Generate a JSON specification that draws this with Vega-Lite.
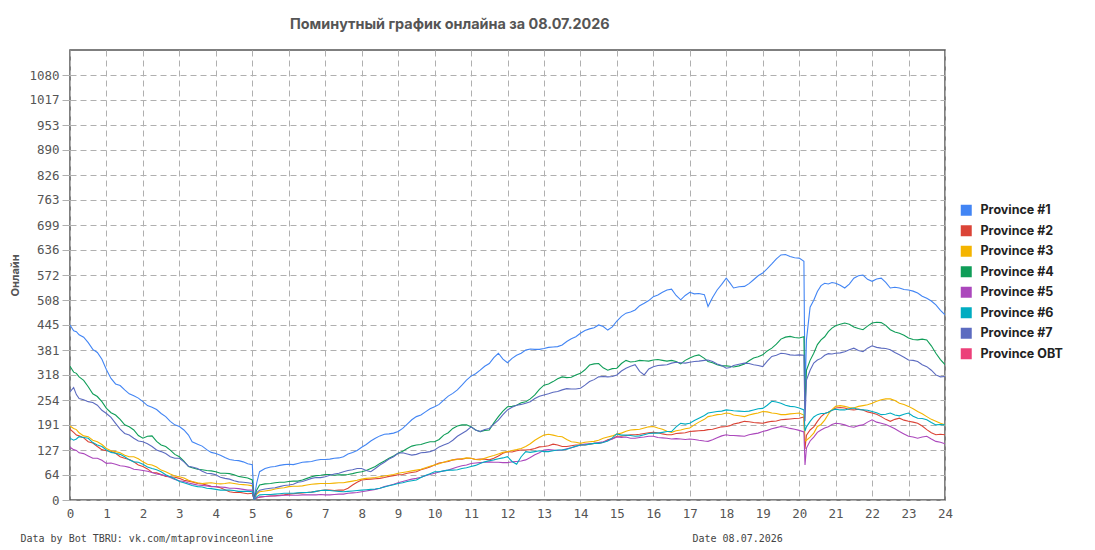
{
  "$schema": "https://vega.github.io/schema/vega-lite/v6.json",
  "width": 875,
  "height": 450,
  "autosize": {"type": "none"},
  "padding": {"left": 70, "top": 50, "right": 150, "bottom": 50},
  "background": "white",
  "title": {
    "text": "Поминутный график онлайна за 08.07.2026",
    "anchor": "start",
    "frame": "group",
    "dx": 220,
    "offset": 18,
    "font": "Inter",
    "fontSize": 14.4,
    "fontWeight": "bold",
    "color": "#555555"
  },
  "config": {
    "view": {"stroke": "#555555", "strokeWidth": 1.5},
    "axis": {
      "labelFont": "DejaVu Sans Mono",
      "labelFontSize": 12.5,
      "labelColor": "#555555",
      "gridColor": "#b0b0b0",
      "gridDash": [6, 4],
      "gridWidth": 1,
      "domain": false
    }
  },
  "data": {
    "values": [
      {"h": 0, "p1": 445, "p2": 180, "p3": 188, "p4": 340, "p5": 134, "p6": 157, "p7": 275},
      {"h": 0.1, "p1": 430, "p2": 172, "p3": 182, "p4": 325, "p5": 128, "p6": 152, "p7": 286},
      {"h": 0.175, "p1": 428, "p2": 165, "p3": 179, "p4": 322, "p5": 126, "p6": 155, "p7": 268},
      {"h": 0.25, "p1": 420, "p2": 163, "p3": 171, "p4": 313, "p5": 120, "p6": 161, "p7": 258},
      {"h": 0.375, "p1": 414, "p2": 158, "p3": 163, "p4": 304, "p5": 118, "p6": 159, "p7": 255},
      {"h": 0.5, "p1": 400, "p2": 148, "p3": 161, "p4": 288, "p5": 112, "p6": 157, "p7": 250},
      {"h": 0.625, "p1": 383, "p2": 145, "p3": 152, "p4": 270, "p5": 106, "p6": 146, "p7": 248},
      {"h": 0.75, "p1": 375, "p2": 136, "p3": 148, "p4": 263, "p5": 106, "p6": 140, "p7": 241},
      {"h": 0.875, "p1": 358, "p2": 128, "p3": 141, "p4": 250, "p5": 101, "p6": 136, "p7": 228},
      {"h": 1.0, "p1": 331, "p2": 125, "p3": 131, "p4": 233, "p5": 93, "p6": 127, "p7": 220},
      {"h": 1.125, "p1": 309, "p2": 124, "p3": 125, "p4": 222, "p5": 94, "p6": 121, "p7": 210},
      {"h": 1.25, "p1": 295, "p2": 119, "p3": 123, "p4": 216, "p5": 91, "p6": 119, "p7": 195},
      {"h": 1.375, "p1": 291, "p2": 110, "p3": 120, "p4": 205, "p5": 87, "p6": 116, "p7": 180},
      {"h": 1.5, "p1": 280, "p2": 106, "p3": 114, "p4": 191, "p5": 86, "p6": 110, "p7": 169},
      {"h": 1.625, "p1": 270, "p2": 103, "p3": 110, "p4": 186, "p5": 83, "p6": 102, "p7": 165},
      {"h": 1.75, "p1": 265, "p2": 97, "p3": 110, "p4": 178, "p5": 78, "p6": 97, "p7": 157},
      {"h": 1.875, "p1": 259, "p2": 89, "p3": 105, "p4": 164, "p5": 77, "p6": 96, "p7": 150},
      {"h": 2.0, "p1": 250, "p2": 85, "p3": 97, "p4": 157, "p5": 75, "p6": 91, "p7": 148},
      {"h": 2.125, "p1": 240, "p2": 79, "p3": 91, "p4": 162, "p5": 73, "p6": 84, "p7": 143},
      {"h": 2.25, "p1": 236, "p2": 70, "p3": 89, "p4": 163, "p5": 70, "p6": 80, "p7": 136},
      {"h": 2.375, "p1": 230, "p2": 69, "p3": 84, "p4": 149, "p5": 66, "p6": 77, "p7": 127},
      {"h": 2.5, "p1": 220, "p2": 65, "p3": 76, "p4": 140, "p5": 64, "p6": 72, "p7": 123},
      {"h": 2.625, "p1": 212, "p2": 60, "p3": 72, "p4": 136, "p5": 62, "p6": 64, "p7": 118},
      {"h": 2.75, "p1": 200, "p2": 59, "p3": 66, "p4": 127, "p5": 57, "p6": 59, "p7": 110},
      {"h": 2.875, "p1": 191, "p2": 58, "p3": 61, "p4": 116, "p5": 52, "p6": 54, "p7": 106},
      {"h": 3.0, "p1": 187, "p2": 55, "p3": 59, "p4": 110, "p5": 49, "p6": 47, "p7": 106},
      {"h": 3.125, "p1": 178, "p2": 50, "p3": 56, "p4": 99, "p5": 47, "p6": 44, "p7": 97},
      {"h": 3.25, "p1": 165, "p2": 48, "p3": 50, "p4": 85, "p5": 43, "p6": 40, "p7": 86},
      {"h": 3.35, "p1": 148, "p2": 46, "p3": 47, "p4": 82, "p5": 41, "p6": 37, "p7": 84},
      {"h": 3.5, "p1": 142, "p2": 42, "p3": 44, "p4": 78, "p5": 38, "p6": 34, "p7": 80},
      {"h": 3.625, "p1": 137, "p2": 41, "p3": 42, "p4": 77, "p5": 37, "p6": 33, "p7": 73},
      {"h": 3.75, "p1": 128, "p2": 38, "p3": 43, "p4": 75, "p5": 36, "p6": 30, "p7": 68},
      {"h": 3.875, "p1": 121, "p2": 35, "p3": 44, "p4": 74, "p5": 34, "p6": 29, "p7": 67},
      {"h": 4.0, "p1": 118, "p2": 34, "p3": 42, "p4": 72, "p5": 34, "p6": 27, "p7": 64},
      {"h": 4.125, "p1": 114, "p2": 31, "p3": 41, "p4": 68, "p5": 33, "p6": 25, "p7": 58},
      {"h": 4.25, "p1": 108, "p2": 26, "p3": 42, "p4": 68, "p5": 32, "p6": 25, "p7": 55},
      {"h": 4.375, "p1": 103, "p2": 21, "p3": 44, "p4": 67, "p5": 30, "p6": 25, "p7": 53},
      {"h": 4.5, "p1": 101, "p2": 19, "p3": 42, "p4": 64, "p5": 30, "p6": 24, "p7": 49},
      {"h": 4.625, "p1": 100, "p2": 20, "p3": 40, "p4": 60, "p5": 29, "p6": 22, "p7": 46},
      {"h": 4.75, "p1": 97, "p2": 18, "p3": 39, "p4": 58, "p5": 27, "p6": 22, "p7": 45},
      {"h": 4.875, "p1": 92, "p2": 16, "p3": 38, "p4": 56, "p5": 25, "p6": 22, "p7": 44},
      {"h": 5.0, "p1": 90, "p2": 17, "p3": 36, "p4": 51, "p5": 25, "p6": 21, "p7": 42},
      {"h": 5.05, "p1": 2, "p2": 1, "p3": 2, "p4": 3, "p5": 1, "p6": 1, "p7": 2},
      {"h": 5.12, "p1": 43, "p2": 5, "p3": 15, "p4": 25, "p5": 5, "p6": 8, "p7": 18},
      {"h": 5.2, "p1": 72, "p2": 7, "p3": 21, "p4": 38, "p5": 8, "p6": 13, "p7": 25},
      {"h": 5.35, "p1": 80, "p2": 9, "p3": 23, "p4": 41, "p5": 9, "p6": 14, "p7": 28},
      {"h": 5.5, "p1": 84, "p2": 10, "p3": 25, "p4": 42, "p5": 10, "p6": 14, "p7": 30},
      {"h": 5.625, "p1": 85, "p2": 11, "p3": 28, "p4": 44, "p5": 10, "p6": 15, "p7": 31},
      {"h": 5.75, "p1": 88, "p2": 12, "p3": 30, "p4": 45, "p5": 11, "p6": 16, "p7": 34},
      {"h": 5.875, "p1": 90, "p2": 13, "p3": 31, "p4": 45, "p5": 12, "p6": 17, "p7": 37},
      {"h": 6.0, "p1": 91, "p2": 15, "p3": 34, "p4": 47, "p5": 12, "p6": 17, "p7": 38},
      {"h": 6.125, "p1": 90, "p2": 16, "p3": 35, "p4": 48, "p5": 12, "p6": 17, "p7": 40},
      {"h": 6.25, "p1": 93, "p2": 17, "p3": 35, "p4": 48, "p5": 12, "p6": 18, "p7": 45},
      {"h": 6.375, "p1": 96, "p2": 18, "p3": 36, "p4": 51, "p5": 13, "p6": 19, "p7": 47},
      {"h": 6.5, "p1": 97, "p2": 19, "p3": 38, "p4": 55, "p5": 13, "p6": 19, "p7": 51},
      {"h": 6.625, "p1": 98, "p2": 20, "p3": 40, "p4": 59, "p5": 13, "p6": 20, "p7": 55},
      {"h": 6.75, "p1": 101, "p2": 22, "p3": 41, "p4": 62, "p5": 13, "p6": 22, "p7": 57},
      {"h": 6.875, "p1": 103, "p2": 24, "p3": 42, "p4": 63, "p5": 14, "p6": 24, "p7": 57},
      {"h": 7.0, "p1": 103, "p2": 25, "p3": 42, "p4": 65, "p5": 13, "p6": 25, "p7": 59},
      {"h": 7.125, "p1": 104, "p2": 25, "p3": 42, "p4": 65, "p5": 13, "p6": 24, "p7": 63},
      {"h": 7.25, "p1": 106, "p2": 24, "p3": 43, "p4": 63, "p5": 14, "p6": 23, "p7": 66},
      {"h": 7.375, "p1": 107, "p2": 25, "p3": 44, "p4": 64, "p5": 15, "p6": 22, "p7": 68},
      {"h": 7.5, "p1": 110, "p2": 25, "p3": 44, "p4": 64, "p5": 15, "p6": 21, "p7": 72},
      {"h": 7.625, "p1": 117, "p2": 30, "p3": 46, "p4": 65, "p5": 17, "p6": 22, "p7": 75},
      {"h": 7.75, "p1": 121, "p2": 38, "p3": 48, "p4": 67, "p5": 18, "p6": 23, "p7": 77},
      {"h": 7.875, "p1": 126, "p2": 45, "p3": 50, "p4": 70, "p5": 19, "p6": 24, "p7": 80},
      {"h": 8.0, "p1": 134, "p2": 51, "p3": 53, "p4": 72, "p5": 21, "p6": 25, "p7": 80},
      {"h": 8.125, "p1": 141, "p2": 52, "p3": 55, "p4": 75, "p5": 23, "p6": 26, "p7": 75},
      {"h": 8.25, "p1": 150, "p2": 53, "p3": 56, "p4": 80, "p5": 25, "p6": 27, "p7": 72},
      {"h": 8.375, "p1": 157, "p2": 54, "p3": 57, "p4": 85, "p5": 27, "p6": 28, "p7": 80},
      {"h": 8.5, "p1": 163, "p2": 55, "p3": 59, "p4": 93, "p5": 30, "p6": 30, "p7": 89},
      {"h": 8.625, "p1": 167, "p2": 57, "p3": 61, "p4": 99, "p5": 34, "p6": 33, "p7": 96},
      {"h": 8.75, "p1": 168, "p2": 60, "p3": 63, "p4": 106, "p5": 37, "p6": 36, "p7": 104},
      {"h": 8.875, "p1": 170, "p2": 62, "p3": 65, "p4": 112, "p5": 40, "p6": 39, "p7": 110},
      {"h": 9.0, "p1": 174, "p2": 64, "p3": 68, "p4": 119, "p5": 44, "p6": 42, "p7": 119},
      {"h": 9.125, "p1": 182, "p2": 65, "p3": 70, "p4": 124, "p5": 47, "p6": 44, "p7": 120},
      {"h": 9.25, "p1": 193, "p2": 68, "p3": 72, "p4": 131, "p5": 50, "p6": 47, "p7": 117},
      {"h": 9.375, "p1": 204, "p2": 70, "p3": 74, "p4": 137, "p5": 53, "p6": 49, "p7": 114},
      {"h": 9.5, "p1": 212, "p2": 72, "p3": 76, "p4": 140, "p5": 55, "p6": 51, "p7": 116},
      {"h": 9.625, "p1": 216, "p2": 77, "p3": 78, "p4": 141, "p5": 58, "p6": 57, "p7": 120},
      {"h": 9.75, "p1": 224, "p2": 80, "p3": 82, "p4": 145, "p5": 62, "p6": 62, "p7": 121},
      {"h": 9.875, "p1": 232, "p2": 84, "p3": 86, "p4": 148, "p5": 65, "p6": 67, "p7": 123},
      {"h": 10.0, "p1": 237, "p2": 89, "p3": 89, "p4": 148, "p5": 68, "p6": 72, "p7": 127},
      {"h": 10.125, "p1": 243, "p2": 94, "p3": 92, "p4": 154, "p5": 71, "p6": 72, "p7": 135},
      {"h": 10.25, "p1": 254, "p2": 96, "p3": 96, "p4": 165, "p5": 74, "p6": 74, "p7": 140},
      {"h": 10.375, "p1": 264, "p2": 98, "p3": 100, "p4": 171, "p5": 76, "p6": 76, "p7": 144},
      {"h": 10.5, "p1": 271, "p2": 102, "p3": 102, "p4": 182, "p5": 80, "p6": 76, "p7": 152},
      {"h": 10.625, "p1": 280, "p2": 104, "p3": 103, "p4": 188, "p5": 84, "p6": 77, "p7": 162},
      {"h": 10.75, "p1": 292, "p2": 104, "p3": 105, "p4": 191, "p5": 87, "p6": 80, "p7": 169},
      {"h": 10.875, "p1": 305, "p2": 106, "p3": 107, "p4": 191, "p5": 89, "p6": 82, "p7": 176},
      {"h": 11.0, "p1": 315, "p2": 106, "p3": 106, "p4": 186, "p5": 93, "p6": 85, "p7": 186},
      {"h": 11.125, "p1": 321, "p2": 103, "p3": 103, "p4": 178, "p5": 94, "p6": 88, "p7": 178},
      {"h": 11.25, "p1": 330, "p2": 104, "p3": 102, "p4": 174, "p5": 95, "p6": 93, "p7": 174},
      {"h": 11.375, "p1": 340, "p2": 104, "p3": 106, "p4": 177, "p5": 96, "p6": 97, "p7": 179},
      {"h": 11.5, "p1": 347, "p2": 102, "p3": 110, "p4": 178, "p5": 97, "p6": 100, "p7": 182},
      {"h": 11.625, "p1": 362, "p2": 106, "p3": 113, "p4": 196, "p5": 96, "p6": 102, "p7": 193},
      {"h": 11.75, "p1": 373, "p2": 112, "p3": 117, "p4": 212, "p5": 96, "p6": 105, "p7": 203},
      {"h": 11.875, "p1": 358, "p2": 119, "p3": 121, "p4": 226, "p5": 95, "p6": 107, "p7": 217},
      {"h": 12.0, "p1": 349, "p2": 123, "p3": 123, "p4": 237, "p5": 95, "p6": 110, "p7": 229},
      {"h": 12.125, "p1": 360, "p2": 122, "p3": 126, "p4": 238, "p5": 97, "p6": 98, "p7": 236},
      {"h": 12.25, "p1": 368, "p2": 125, "p3": 128, "p4": 241, "p5": 98, "p6": 91, "p7": 241},
      {"h": 12.375, "p1": 373, "p2": 127, "p3": 131, "p4": 247, "p5": 99, "p6": 110, "p7": 243},
      {"h": 12.5, "p1": 381, "p2": 127, "p3": 136, "p4": 250, "p5": 102, "p6": 123, "p7": 246},
      {"h": 12.625, "p1": 384, "p2": 128, "p3": 143, "p4": 257, "p5": 108, "p6": 121, "p7": 250},
      {"h": 12.75, "p1": 383, "p2": 131, "p3": 152, "p4": 267, "p5": 115, "p6": 123, "p7": 258},
      {"h": 12.875, "p1": 383, "p2": 135, "p3": 159, "p4": 281, "p5": 120, "p6": 125, "p7": 264},
      {"h": 13.0, "p1": 385, "p2": 136, "p3": 165, "p4": 292, "p5": 127, "p6": 123, "p7": 267},
      {"h": 13.125, "p1": 388, "p2": 138, "p3": 167, "p4": 295, "p5": 128, "p6": 123, "p7": 270},
      {"h": 13.25, "p1": 389, "p2": 142, "p3": 165, "p4": 301, "p5": 127, "p6": 125, "p7": 274},
      {"h": 13.375, "p1": 390, "p2": 140, "p3": 162, "p4": 308, "p5": 126, "p6": 127, "p7": 276},
      {"h": 13.5, "p1": 394, "p2": 136, "p3": 161, "p4": 313, "p5": 127, "p6": 127, "p7": 280},
      {"h": 13.625, "p1": 403, "p2": 136, "p3": 154, "p4": 311, "p5": 130, "p6": 129, "p7": 283},
      {"h": 13.75, "p1": 410, "p2": 138, "p3": 148, "p4": 312, "p5": 133, "p6": 133, "p7": 282},
      {"h": 13.875, "p1": 415, "p2": 140, "p3": 147, "p4": 318, "p5": 136, "p6": 137, "p7": 282},
      {"h": 14.0, "p1": 424, "p2": 140, "p3": 144, "p4": 322, "p5": 140, "p6": 140, "p7": 284},
      {"h": 14.125, "p1": 431, "p2": 140, "p3": 147, "p4": 331, "p5": 142, "p6": 140, "p7": 292},
      {"h": 14.25, "p1": 435, "p2": 142, "p3": 148, "p4": 343, "p5": 143, "p6": 142, "p7": 301},
      {"h": 14.375, "p1": 438, "p2": 144, "p3": 149, "p4": 346, "p5": 144, "p6": 144, "p7": 306},
      {"h": 14.5, "p1": 445, "p2": 144, "p3": 152, "p4": 347, "p5": 146, "p6": 144, "p7": 313},
      {"h": 14.625, "p1": 441, "p2": 147, "p3": 157, "p4": 336, "p5": 148, "p6": 146, "p7": 314},
      {"h": 14.75, "p1": 432, "p2": 153, "p3": 160, "p4": 330, "p5": 151, "p6": 150, "p7": 313},
      {"h": 14.875, "p1": 440, "p2": 156, "p3": 163, "p4": 334, "p5": 155, "p6": 158, "p7": 314},
      {"h": 15.0, "p1": 455, "p2": 162, "p3": 168, "p4": 335, "p5": 160, "p6": 168, "p7": 318},
      {"h": 15.125, "p1": 467, "p2": 162, "p3": 170, "p4": 347, "p5": 159, "p6": 165, "p7": 328},
      {"h": 15.25, "p1": 475, "p2": 164, "p3": 175, "p4": 355, "p5": 160, "p6": 165, "p7": 335},
      {"h": 15.375, "p1": 478, "p2": 166, "p3": 178, "p4": 351, "p5": 157, "p6": 164, "p7": 340},
      {"h": 15.5, "p1": 483, "p2": 166, "p3": 179, "p4": 352, "p5": 157, "p6": 162, "p7": 344},
      {"h": 15.625, "p1": 494, "p2": 167, "p3": 180, "p4": 355, "p5": 159, "p6": 163, "p7": 327},
      {"h": 15.75, "p1": 500, "p2": 169, "p3": 183, "p4": 354, "p5": 160, "p6": 166, "p7": 318},
      {"h": 15.875, "p1": 507, "p2": 171, "p3": 186, "p4": 353, "p5": 162, "p6": 169, "p7": 333},
      {"h": 16.0, "p1": 517, "p2": 172, "p3": 187, "p4": 356, "p5": 162, "p6": 170, "p7": 339},
      {"h": 16.125, "p1": 521, "p2": 171, "p3": 183, "p4": 357, "p5": 159, "p6": 170, "p7": 342},
      {"h": 16.25, "p1": 528, "p2": 168, "p3": 180, "p4": 355, "p5": 158, "p6": 172, "p7": 343},
      {"h": 16.375, "p1": 534, "p2": 166, "p3": 175, "p4": 353, "p5": 157, "p6": 174, "p7": 344},
      {"h": 16.5, "p1": 536, "p2": 166, "p3": 172, "p4": 355, "p5": 155, "p6": 174, "p7": 348},
      {"h": 16.625, "p1": 520, "p2": 169, "p3": 176, "p4": 352, "p5": 156, "p6": 186, "p7": 350},
      {"h": 16.75, "p1": 509, "p2": 170, "p3": 178, "p4": 346, "p5": 155, "p6": 195, "p7": 349},
      {"h": 16.875, "p1": 520, "p2": 171, "p3": 181, "p4": 355, "p5": 154, "p6": 193, "p7": 348},
      {"h": 17.0, "p1": 528, "p2": 174, "p3": 183, "p4": 361, "p5": 155, "p6": 195, "p7": 350},
      {"h": 17.125, "p1": 524, "p2": 175, "p3": 191, "p4": 366, "p5": 154, "p6": 202, "p7": 352},
      {"h": 17.25, "p1": 525, "p2": 176, "p3": 198, "p4": 369, "p5": 152, "p6": 208, "p7": 353},
      {"h": 17.4, "p1": 522, "p2": 177, "p3": 205, "p4": 360, "p5": 150, "p6": 215, "p7": 355},
      {"h": 17.5, "p1": 492, "p2": 179, "p3": 212, "p4": 352, "p5": 149, "p6": 221, "p7": 356},
      {"h": 17.625, "p1": 515, "p2": 180, "p3": 214, "p4": 349, "p5": 153, "p6": 223, "p7": 352},
      {"h": 17.75, "p1": 534, "p2": 183, "p3": 217, "p4": 344, "p5": 158, "p6": 225, "p7": 346},
      {"h": 17.875, "p1": 548, "p2": 186, "p3": 218, "p4": 341, "p5": 163, "p6": 226, "p7": 342},
      {"h": 18.0, "p1": 564, "p2": 187, "p3": 221, "p4": 341, "p5": 166, "p6": 229, "p7": 335},
      {"h": 18.1, "p1": 552, "p2": 189, "p3": 220, "p4": 340, "p5": 164, "p6": 228, "p7": 337},
      {"h": 18.2, "p1": 539, "p2": 193, "p3": 216, "p4": 338, "p5": 164, "p6": 227, "p7": 342},
      {"h": 18.35, "p1": 542, "p2": 196, "p3": 214, "p4": 341, "p5": 163, "p6": 226, "p7": 345},
      {"h": 18.5, "p1": 543, "p2": 200, "p3": 212, "p4": 346, "p5": 162, "p6": 225, "p7": 348},
      {"h": 18.625, "p1": 550, "p2": 199, "p3": 216, "p4": 354, "p5": 166, "p6": 226, "p7": 347},
      {"h": 18.75, "p1": 560, "p2": 197, "p3": 219, "p4": 361, "p5": 168, "p6": 229, "p7": 344},
      {"h": 18.875, "p1": 570, "p2": 196, "p3": 221, "p4": 364, "p5": 170, "p6": 232, "p7": 342},
      {"h": 19.0, "p1": 577, "p2": 195, "p3": 225, "p4": 369, "p5": 174, "p6": 233, "p7": 339},
      {"h": 19.125, "p1": 588, "p2": 198, "p3": 224, "p4": 379, "p5": 177, "p6": 241, "p7": 353},
      {"h": 19.25, "p1": 600, "p2": 200, "p3": 221, "p4": 386, "p5": 181, "p6": 251, "p7": 365},
      {"h": 19.375, "p1": 613, "p2": 201, "p3": 220, "p4": 396, "p5": 184, "p6": 249, "p7": 368},
      {"h": 19.5, "p1": 623, "p2": 204, "p3": 217, "p4": 409, "p5": 187, "p6": 246, "p7": 373},
      {"h": 19.625, "p1": 624, "p2": 205, "p3": 217, "p4": 414, "p5": 185, "p6": 241, "p7": 372},
      {"h": 19.75, "p1": 619, "p2": 206, "p3": 219, "p4": 416, "p5": 182, "p6": 238, "p7": 369},
      {"h": 19.875, "p1": 616, "p2": 207, "p3": 220, "p4": 413, "p5": 180, "p6": 237, "p7": 368},
      {"h": 20.0, "p1": 615, "p2": 208, "p3": 221, "p4": 412, "p5": 177, "p6": 234, "p7": 369},
      {"h": 20.13, "p1": 607, "p2": 211, "p3": 216, "p4": 415, "p5": 173, "p6": 229, "p7": 368},
      {"h": 20.16, "p1": 270, "p2": 130, "p3": 150, "p4": 230, "p5": 89, "p6": 175, "p7": 200},
      {"h": 20.2, "p1": 407, "p2": 165, "p3": 152, "p4": 330, "p5": 132, "p6": 186, "p7": 305},
      {"h": 20.3, "p1": 490, "p2": 178, "p3": 160, "p4": 355, "p5": 150, "p6": 200, "p7": 330},
      {"h": 20.4, "p1": 508, "p2": 186, "p3": 170, "p4": 373, "p5": 160, "p6": 211, "p7": 348},
      {"h": 20.5, "p1": 530, "p2": 200, "p3": 187, "p4": 395, "p5": 172, "p6": 217, "p7": 356},
      {"h": 20.6, "p1": 545, "p2": 212, "p3": 192, "p4": 407, "p5": 178, "p6": 220, "p7": 360},
      {"h": 20.7, "p1": 551, "p2": 220, "p3": 203, "p4": 415, "p5": 183, "p6": 220, "p7": 368},
      {"h": 20.8, "p1": 549, "p2": 223, "p3": 218, "p4": 428, "p5": 186, "p6": 223, "p7": 372},
      {"h": 20.9, "p1": 553, "p2": 228, "p3": 230, "p4": 437, "p5": 192, "p6": 228, "p7": 371},
      {"h": 21.0, "p1": 551, "p2": 234, "p3": 238, "p4": 443, "p5": 195, "p6": 231, "p7": 373},
      {"h": 21.125, "p1": 546, "p2": 235, "p3": 240, "p4": 447, "p5": 194, "p6": 229, "p7": 374},
      {"h": 21.25, "p1": 539, "p2": 234, "p3": 238, "p4": 450, "p5": 191, "p6": 229, "p7": 377},
      {"h": 21.375, "p1": 549, "p2": 230, "p3": 235, "p4": 447, "p5": 187, "p6": 232, "p7": 382},
      {"h": 21.5, "p1": 564, "p2": 229, "p3": 234, "p4": 440, "p5": 185, "p6": 234, "p7": 386},
      {"h": 21.625, "p1": 570, "p2": 231, "p3": 238, "p4": 436, "p5": 189, "p6": 230, "p7": 380},
      {"h": 21.75, "p1": 572, "p2": 229, "p3": 240, "p4": 433, "p5": 191, "p6": 229, "p7": 377},
      {"h": 21.875, "p1": 561, "p2": 224, "p3": 242, "p4": 442, "p5": 198, "p6": 228, "p7": 386},
      {"h": 22.0, "p1": 556, "p2": 221, "p3": 246, "p4": 450, "p5": 204, "p6": 225, "p7": 392},
      {"h": 22.125, "p1": 562, "p2": 218, "p3": 251, "p4": 452, "p5": 198, "p6": 222, "p7": 388},
      {"h": 22.25, "p1": 564, "p2": 212, "p3": 255, "p4": 451, "p5": 195, "p6": 217, "p7": 386},
      {"h": 22.375, "p1": 553, "p2": 205, "p3": 257, "p4": 444, "p5": 192, "p6": 218, "p7": 385},
      {"h": 22.5, "p1": 539, "p2": 200, "p3": 257, "p4": 433, "p5": 187, "p6": 221, "p7": 382},
      {"h": 22.625, "p1": 541, "p2": 205, "p3": 253, "p4": 427, "p5": 181, "p6": 216, "p7": 375},
      {"h": 22.75, "p1": 539, "p2": 208, "p3": 246, "p4": 424, "p5": 174, "p6": 214, "p7": 369},
      {"h": 22.875, "p1": 535, "p2": 203, "p3": 243, "p4": 419, "p5": 168, "p6": 218, "p7": 363},
      {"h": 23.0, "p1": 534, "p2": 200, "p3": 238, "p4": 412, "p5": 162, "p6": 221, "p7": 356},
      {"h": 23.125, "p1": 531, "p2": 198, "p3": 232, "p4": 408, "p5": 160, "p6": 213, "p7": 355},
      {"h": 23.25, "p1": 526, "p2": 195, "p3": 225, "p4": 407, "p5": 157, "p6": 208, "p7": 352},
      {"h": 23.375, "p1": 518, "p2": 188, "p3": 219, "p4": 409, "p5": 160, "p6": 207, "p7": 344},
      {"h": 23.5, "p1": 513, "p2": 179, "p3": 212, "p4": 407, "p5": 162, "p6": 204, "p7": 339},
      {"h": 23.625, "p1": 506, "p2": 171, "p3": 205, "p4": 392, "p5": 155, "p6": 197, "p7": 330},
      {"h": 23.75, "p1": 496, "p2": 166, "p3": 200, "p4": 373, "p5": 149, "p6": 191, "p7": 318},
      {"h": 23.875, "p1": 482, "p2": 167, "p3": 195, "p4": 357, "p5": 147, "p6": 192, "p7": 313},
      {"h": 24.0, "p1": 471, "p2": 166, "p3": 191, "p4": 344, "p5": 143, "p6": 191, "p7": 314}
    ]
  },
  "transform": [
    {"fold": ["p1", "p2", "p3", "p4", "p5", "p6", "p7"], "as": ["series", "online"]}
  ],
  "layer": [
    {
      "mark": {"type": "line", "strokeWidth": 1.1, "clip": true},
      "encoding": {
        "x": {
          "field": "h",
          "type": "quantitative",
          "scale": {"domain": [0, 24], "nice": false, "zero": false},
          "axis": {
            "values": [0, 1, 2, 3, 4, 5, 6, 7, 8, 9, 10, 11, 12, 13, 14, 15, 16, 17, 18, 19, 20, 21, 22, 23, 24],
            "format": "d",
            "ticks": false,
            "labelPadding": 7,
            "labelFlush": false,
            "labelOverlap": false,
            "title": "Date 08.07.2026",
            "titleFont": "DejaVu Sans Mono",
            "titleFontSize": 10,
            "titleFontWeight": "normal",
            "titleColor": "#444444",
            "titleX": 622,
            "titleY": 41,
            "titleAlign": "left",
            "titleBaseline": "alphabetic"
          }
        },
        "y": {
          "field": "online",
          "type": "quantitative",
          "scale": {"domain": [0, 1144], "nice": false},
          "axis": {
            "values": [0, 63.556, 127.111, 190.667, 254.222, 317.778, 381.333, 444.889, 508.444, 572, 635.556, 699.111, 762.667, 826.222, 889.778, 953.333, 1016.889, 1080.444],
            "format": ".0f",
            "tickSize": 8,
            "tickColor": "#b0b0b0",
            "labelPadding": 3,
            "labelOverlap": false,
            "title": "Онлайн",
            "titleFont": "Inter",
            "titleFontSize": 11,
            "titleFontWeight": "bold",
            "titleColor": "#555555",
            "titleAngle": 270,
            "titleX": -55,
            "titleY": 225,
            "titleAlign": "center",
            "titleBaseline": "middle"
          }
        },
        "color": {
          "field": "series",
          "type": "nominal",
          "scale": {
            "domain": ["p1", "p2", "p3", "p4", "p5", "p6", "p7", "p8"],
            "range": ["#4285F4", "#DB4437", "#F4B400", "#0F9D58", "#AB47BC", "#00ACC1", "#5C6BC0", "#EC407A"]
          },
          "legend": {
            "orient": "none",
            "legendX": 890,
            "legendY": 154,
            "title": null,
            "symbolType": "square",
            "symbolSize": 121,
            "labelFont": "Inter",
            "labelFontSize": 12.5,
            "labelFontWeight": "bold",
            "labelColor": "#222222",
            "labelOffset": 8,
            "rowPadding": 7.5,
            "labelExpr": "datum.label == 'p8' ? 'Province OBT' : 'Province #' + substring(datum.label, 1)",
            "encode": {
              "symbols": {
                "update": {
                  "fill": {"scale": "color", "field": "value"},
                  "fillOpacity": {"value": 1},
                  "stroke": {"value": "transparent"},
                  "strokeWidth": {"value": 0}
                }
              }
            }
          }
        }
      }
    },
    {
      "mark": {"type": "rule", "opacity": 0},
      "encoding": {
        "x": {
          "field": "h",
          "type": "quantitative",
          "axis": {
            "orient": "top",
            "labels": false,
            "ticks": false,
            "grid": false,
            "domain": false,
            "title": "Data by Bot TBRU: vk.com/mtaprovinceonline",
            "titleFont": "DejaVu Sans Mono",
            "titleFontSize": 10,
            "titleFontWeight": "normal",
            "titleColor": "#444444",
            "titleX": -50,
            "titleY": 491,
            "titleAlign": "left",
            "titleBaseline": "alphabetic"
          }
        }
      }
    }
  ],
  "resolve": {"axis": {"x": "independent"}}
}
